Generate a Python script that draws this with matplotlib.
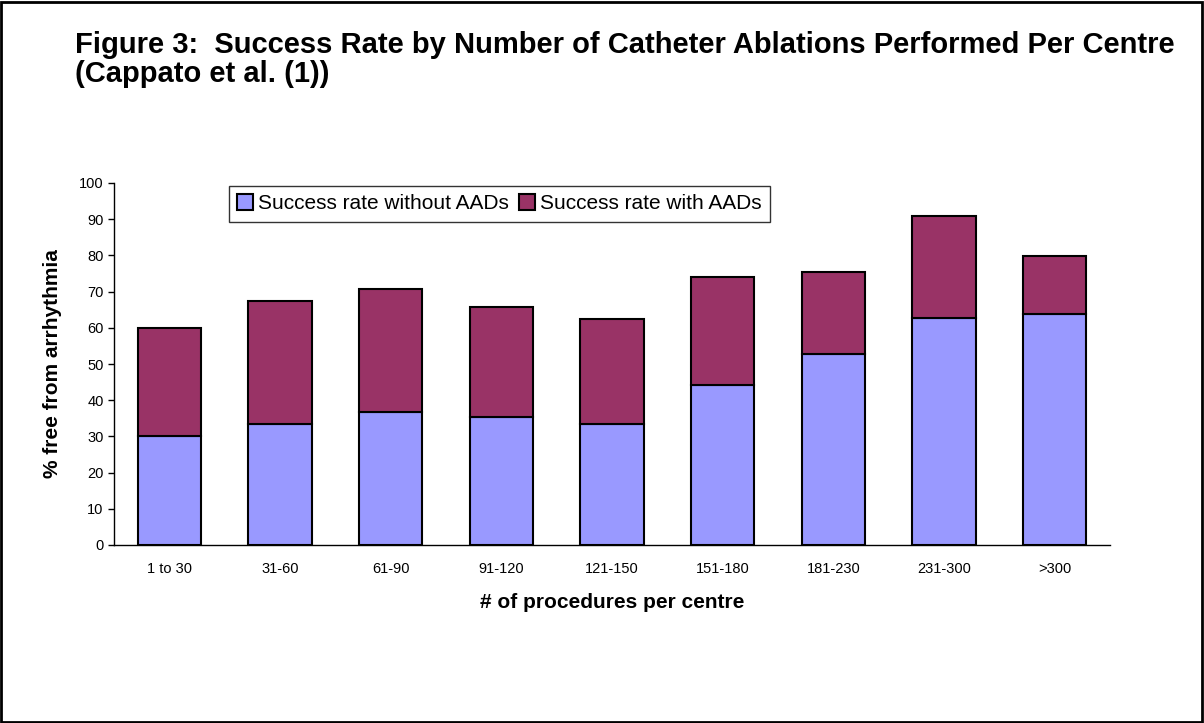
import matplotlib
matplotlib.use('Agg')
import matplotlib.pyplot as plt
from matplotlib.patches import Rectangle

# data
categories = ['1 to 30', '31-60', '61-90', '91-120', '121-150',
              '151-180', '181-230', '231-300', '>300']
without_aads = [30, 33.5, 36.8, 35.3, 33.5, 44.3, 52.9, 62.6, 63.8]
with_aads = [30, 34, 33.9, 30.4, 28.8, 29.7, 22.6, 28.4, 15.9]
y_ticks = list(range(0, 101, 10))

plt.rcParams['font.family'] = ['Liberation Sans', 'DejaVu Sans']


def main():
    fig = plt.figure(figsize=(12.04, 7.23), dpi=100)
    ax = fig.add_axes([114 / 1204, 1 - 545 / 723, 996 / 1204, 362 / 723])

    x = list(range(len(categories)))
    ax.bar(x, without_aads, width=0.57, color='#9999FF', edgecolor='black',
           linewidth=1.5, label='Success rate without AADs')
    ax.bar(x, with_aads, width=0.57, bottom=without_aads, color='#993366',
           edgecolor='black', linewidth=1.5, label='Success rate with AADs')

    ax.set_xlim(-0.5, len(categories) - 0.5)
    ax.set_ylim(0, 100)
    ax.set_yticks(y_ticks)
    ax.set_xticks(x)
    ax.set_xticklabels(categories, fontsize=10.5)
    ax.tick_params(axis='y', labelsize=10.5, length=4, width=1, direction='out')
    ax.tick_params(axis='x', length=0, pad=12)
    for side in ['top', 'right']:
        ax.spines[side].set_visible(False)
    for side in ['left', 'bottom']:
        ax.spines[side].set_linewidth(1)

    ax.set_ylabel('% free from arrhythmia', fontsize=15, fontweight='bold')
    ax.yaxis.set_label_coords(-52 / 996, 0.5)
    ax.set_xlabel('# of procedures per centre', fontsize=15, fontweight='bold')
    ax.xaxis.set_label_coords(0.5, -48 / 362)

    leg = ax.legend(loc='upper left', bbox_to_anchor=((229 - 114) / 996, (545 - 186) / 362),
                    borderaxespad=0, ncol=2, fontsize=15, frameon=True, fancybox=False,
                    handlelength=0.75, handleheight=0.75, handletextpad=0.25,
                    columnspacing=0.5, borderpad=0.4)
    leg.get_frame().set_edgecolor('black')
    leg.get_frame().set_linewidth(1)

    fig.text(75 / 1204, 1 - 31 / 723,
             'Figure 3:  Success Rate by Number of Catheter Ablations Performed Per Centre\n'
             '(Cappato et al. (1))',
             ha='left', va='top', fontsize=21, fontweight='bold', linespacing=1.05)

    fig.patches.append(Rectangle((1 / 1204, 1 / 723), 1201 / 1204, 720 / 723,
                                 transform=fig.transFigure, fill=False,
                                 edgecolor='black', linewidth=2))

    fig.savefig('out.png', dpi=100)


if __name__ == '__main__':
    main()
